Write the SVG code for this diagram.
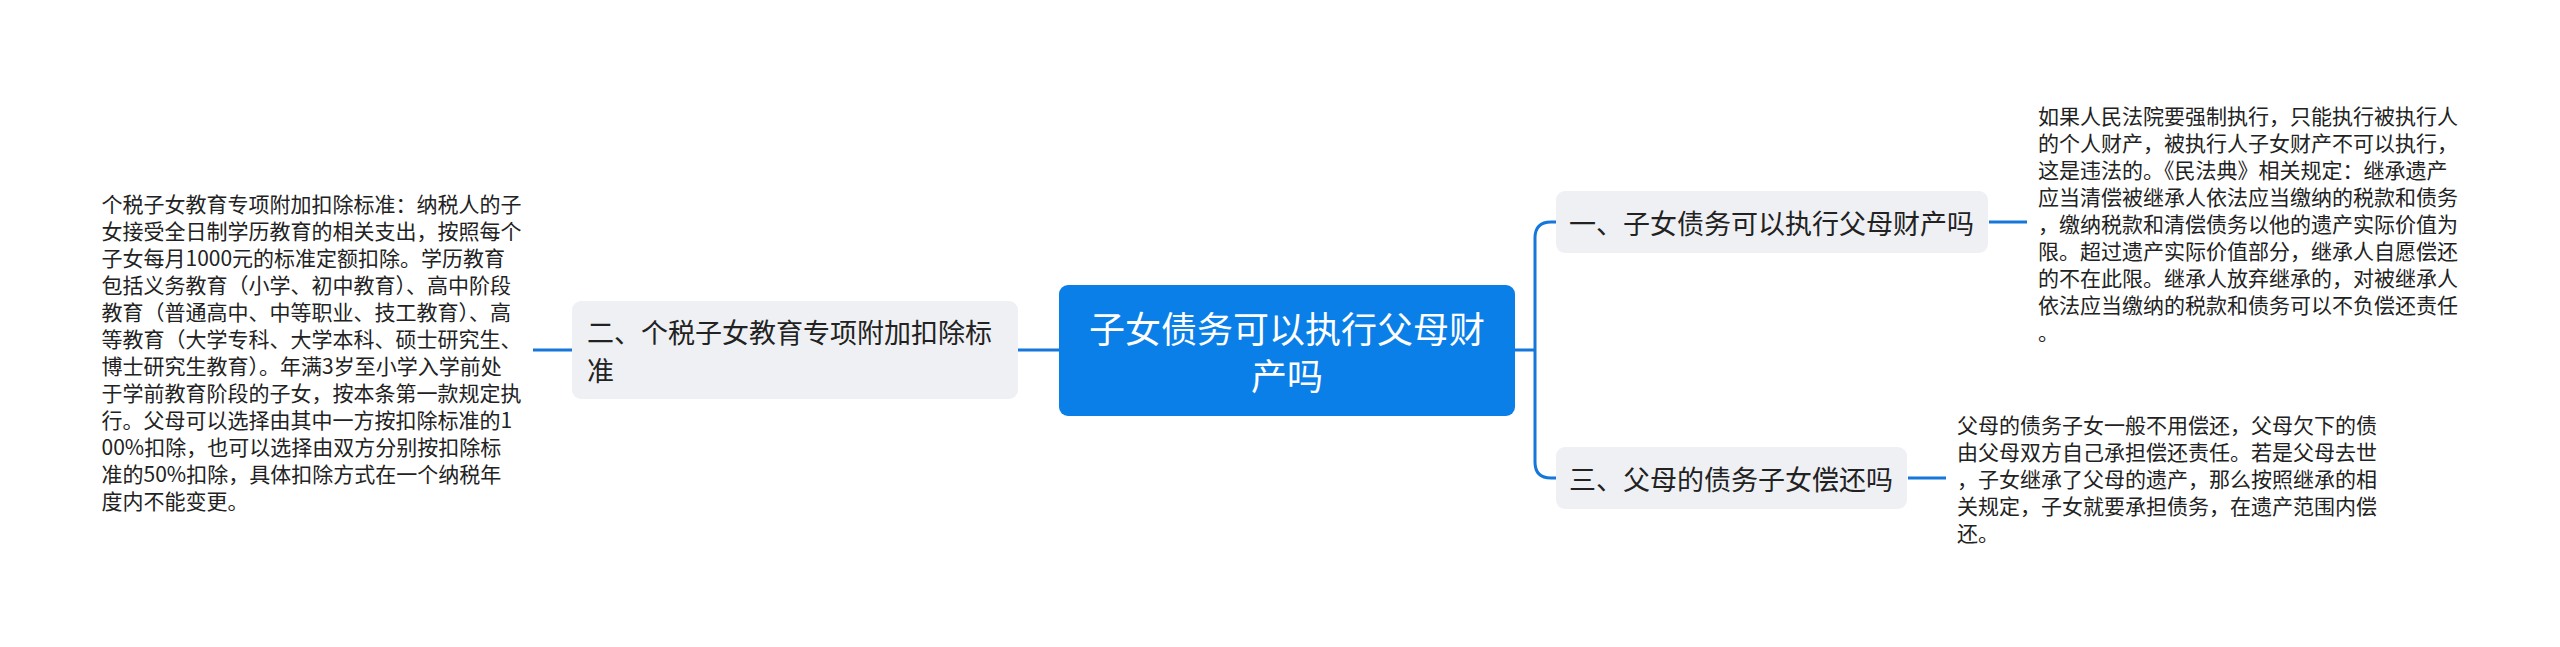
<svg xmlns="http://www.w3.org/2000/svg" width="2560" height="647" viewBox="0 0 2560 647">
<style>
text{font-family:"Noto Sans CJK SC","Microsoft YaHei",sans-serif;dominant-baseline:central;fill:#222}
.leaf{font-size:21px}
.sub{font-size:27px}
.root{font-size:36px;fill:#fff;text-anchor:middle}
.subbox{fill:#EEF0F3}
.conn{fill:none;stroke:#1677DA;stroke-width:3}
</style>
<rect width="2560" height="647" fill="#fff"/>
<g id="connectors">
<path class="conn" d="M1018,350 H1059"/>
<path class="conn" d="M533,350 H572"/>
<path class="conn" d="M1515,350 H1535"/>
<path class="conn" d="M1556,222 H1551 Q1535,222 1535,238 V462 Q1535,478 1551,478 H1556"/>
<path class="conn" d="M1989,222 H2027"/>
<path class="conn" d="M1908,478 H1946"/>
</g>
<g id="root">
<rect x="1059" y="285" width="456" height="131" rx="9" fill="#0B7FE8"/>
<text class="root" x="1287" y="327">子女债务可以执行父母财</text>
<text class="root" x="1287" y="374">产吗</text>
</g>
<g id="node2">
<rect class="subbox" x="572" y="301" width="446" height="98" rx="9"/>
<text class="sub" x="587" y="331">二、个税子女教育专项附加扣除标</text>
<text class="sub" x="587" y="369">准</text>
</g>
<g id="node2-text">
<text class="leaf" x="101.5" y="203">个税子女教育专项附加扣除标准：纳税人的子</text>
<text class="leaf" x="101.5" y="230">女接受全日制学历教育的相关支出，按照每个</text>
<text class="leaf" x="101.5" y="257">子女每月1000元的标准定额扣除。学历教育</text>
<text class="leaf" x="101.5" y="284">包括义务教育（小学、初中教育）、高中阶段</text>
<text class="leaf" x="101.5" y="311">教育（普通高中、中等职业、技工教育）、高</text>
<text class="leaf" x="101.5" y="338">等教育（大学专科、大学本科、硕士研究生、</text>
<text class="leaf" x="101.5" y="365">博士研究生教育）。年满3岁至小学入学前处</text>
<text class="leaf" x="101.5" y="392">于学前教育阶段的子女，按本条第一款规定执</text>
<text class="leaf" x="101.5" y="419">行。父母可以选择由其中一方按扣除标准的1</text>
<text class="leaf" x="101.5" y="446">00%扣除，也可以选择由双方分别按扣除标</text>
<text class="leaf" x="101.5" y="473">准的50%扣除，具体扣除方式在一个纳税年</text>
<text class="leaf" x="101.5" y="500">度内不能变更。</text>
</g>
<g id="node1">
<rect class="subbox" x="1556" y="191" width="432" height="62" rx="9"/>
<text class="sub" x="1569" y="222">一、子女债务可以执行父母财产吗</text>
</g>
<g id="node1-text">
<text class="leaf" x="2038" y="115">如果人民法院要强制执行，只能执行被执行人</text>
<text class="leaf" x="2038" y="142">的个人财产，被执行人子女财产不可以执行，</text>
<text class="leaf" x="2038" y="169">这是违法的。《民法典》相关规定：继承遗产</text>
<text class="leaf" x="2038" y="196">应当清偿被继承人依法应当缴纳的税款和债务</text>
<text class="leaf" x="2038" y="223">，缴纳税款和清偿债务以他的遗产实际价值为</text>
<text class="leaf" x="2038" y="250">限。超过遗产实际价值部分，继承人自愿偿还</text>
<text class="leaf" x="2038" y="277">的不在此限。继承人放弃继承的，对被继承人</text>
<text class="leaf" x="2038" y="304">依法应当缴纳的税款和债务可以不负偿还责任</text>
<text class="leaf" x="2038" y="331">。</text>
</g>
<g id="node3">
<rect class="subbox" x="1556" y="447" width="351" height="62" rx="9"/>
<text class="sub" x="1569" y="478">三、父母的债务子女偿还吗</text>
</g>
<g id="node3-text">
<text class="leaf" x="1957" y="424">父母的债务子女一般不用偿还，父母欠下的债</text>
<text class="leaf" x="1957" y="451">由父母双方自己承担偿还责任。若是父母去世</text>
<text class="leaf" x="1957" y="478">，子女继承了父母的遗产，那么按照继承的相</text>
<text class="leaf" x="1957" y="505">关规定，子女就要承担债务，在遗产范围内偿</text>
<text class="leaf" x="1957" y="532">还。</text>
</g>
</svg>
